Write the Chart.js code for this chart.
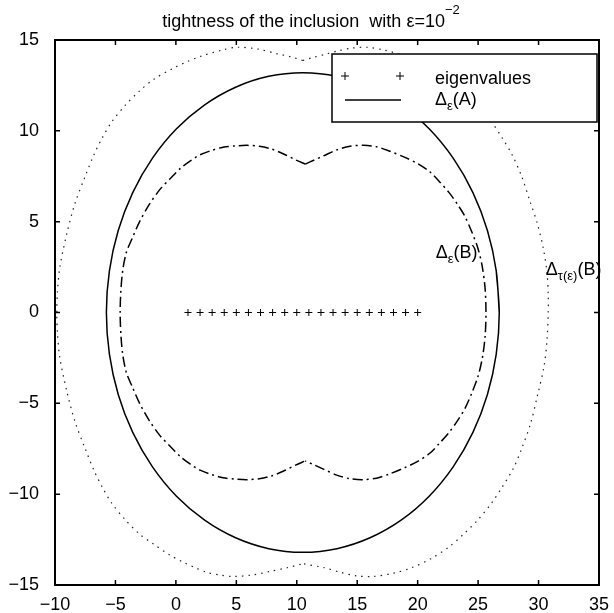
<!DOCTYPE html>
<html>
<head>
<meta charset="utf-8">
<script src="https://cdn.jsdelivr.net/npm/chart.js@4.4.1/dist/chart.umd.min.js"></script>
<style>
  html, body { margin: 0; padding: 0; background: #fff; }
  #wrap { width: 614px; height: 613px; }
</style>
</head>
<body>
<div id="wrap"><canvas id="chart" width="614" height="613"></canvas></div>
<script>
// DATA

const xTicks = [-10, -5, 0, 5, 10, 15, 20, 25, 30, 35];
const yTicks = [-15, -10, -5, 0, 5, 10, 15];

// eigenvalues on the real axis
const eigRe = [1, 2, 3, 4, 5, 6, 7, 8, 9, 10, 11, 12, 13, 14, 15, 16, 17, 18, 19, 20];
const eigIm = [0, 0, 0, 0, 0, 0, 0, 0, 0, 0, 0, 0, 0, 0, 0, 0, 0, 0, 0, 0];

// Delta_eps(A), solid curve
const deltaA = [
  [26.75, 0], [26.50, 2.29], [25.77, 4.51], [24.57, 6.60], [22.95, 8.48], [20.95, 10.11],
  [18.63, 11.43], [16.06, 12.40], [13.32, 13.00], [10.5, 13.2], [7.68, 13.00], [4.94, 12.40],
  [2.38, 11.43], [0.05, 10.11], [-1.95, 8.48], [-3.57, 6.60], [-4.77, 4.51], [-5.50, 2.29],
  [-5.75, 0], [-5.50, -2.29], [-4.77, -4.51], [-3.57, -6.60], [-1.95, -8.48], [0.05, -10.11],
  [2.38, -11.43], [4.94, -12.40], [7.68, -13.00], [10.5, -13.2], [13.32, -13.00], [16.06, -12.40],
  [18.63, -11.43], [20.95, -10.11], [22.95, -8.48], [24.57, -6.60], [25.77, -4.51], [26.50, -2.29],
  [26.75, 0], [26.50, 2.29]
];

// Delta_eps(B), dash-dot curve, right and left lobes
const deltaBRight = [
  [10.7, 8.17], [11.4, 8.38], [12.2, 8.62], [13.3, 8.95], [14.4, 9.15], [15.5, 9.2], [16.6, 9.12],
  [17.7, 8.88], [18.9, 8.55], [20.0, 8.2], [21.0, 7.75], [21.8, 7.2], [22.6, 6.6], [23.3, 5.95],
  [23.9, 5.3], [24.5, 4.4], [25.0, 3.5], [25.35, 2.5], [25.58, 1.3], [25.65, 0], [25.58, -1.3],
  [25.35, -2.5], [25.0, -3.5], [24.5, -4.4], [23.9, -5.3], [23.3, -5.95], [22.6, -6.6], [21.8, -7.2],
  [21.0, -7.75], [20.0, -8.2], [18.9, -8.55], [17.7, -8.88], [16.6, -9.12], [15.5, -9.2], [14.4, -9.15],
  [13.3, -8.95], [12.2, -8.62], [11.4, -8.38], [10.7, -8.17]
];
const deltaBLeft = [
  [10.7, 8.17], [9.9, 8.4], [9.0, 8.7], [7.9, 9.0], [6.9, 9.15], [5.9, 9.2], [4.9, 9.17], [3.9, 9.1],
  [3.0, 8.93], [2.0, 8.68], [1.2, 8.35], [0.4, 7.95], [-0.5, 7.35], [-1.3, 6.79], [-2.2, 5.95],
  [-3.0, 5.0], [-3.6, 4.1], [-4.1, 3.3], [-4.4, 2.3], [-4.55, 1.2], [-4.61, 0], [-4.55, -1.2],
  [-4.4, -2.3], [-4.1, -3.3], [-3.6, -4.1], [-3.0, -5.0], [-2.2, -5.95], [-1.3, -6.79], [-0.5, -7.35],
  [0.4, -7.95], [1.2, -8.35], [2.0, -8.68], [3.0, -8.93], [3.9, -9.1], [4.9, -9.17], [5.9, -9.2],
  [6.9, -9.15], [7.9, -9.0], [9.0, -8.7], [9.9, -8.4], [10.7, -8.17]
];

// Delta_tau(eps)(B), dotted curve, right and left lobes
const deltaTauRight = [
  [10.5, 13.87], [11.4, 14.05], [12.3, 14.2], [13.4, 14.4], [14.5, 14.55], [15.8, 14.6], [17.2, 14.45],
  [18.8, 14.15], [20.5, 13.7], [22.0, 13.1], [23.5, 12.4], [24.8, 11.55], [26.0, 10.6], [27.0, 9.6],
  [27.8, 8.7], [28.6, 7.5], [29.3, 6.1], [29.9, 4.9], [30.4, 3.5], [30.7, 2.2], [30.8, 1.0], [30.8, 0],
  [30.7, -1.5], [30.45, -2.97], [29.9, -4.6], [29.35, -6.09], [28.6, -7.5], [27.9, -8.6], [27.0, -9.6],
  [26.1, -10.5], [25.0, -11.4], [23.8, -12.2], [22.6, -12.9], [21.1, -13.55], [19.5, -14.05],
  [18.0, -14.35], [16.3, -14.53], [15.0, -14.5], [13.6, -14.3], [12.3, -14.05], [10.5, -13.83]
];
const deltaTauLeft = [
  [10.5, 13.87], [9.5, 14.08], [8.4, 14.24], [6.8, 14.5], [5.1, 14.6], [3.9, 14.46], [2.0, 14.09],
  [0.9, 13.8], [-0.2, 13.45], [-1.8, 12.85], [-3.0, 12.2], [-4.2, 11.4], [-5.3, 10.5], [-6.1, 9.6],
  [-6.75, 8.73], [-7.5, 7.5], [-8.35, 6.0], [-9.0, 4.4], [-9.6, 2.5], [-9.8, 1.1], [-9.85, 0],
  [-9.8, -1.1], [-9.6, -2.5], [-9.0, -4.4], [-8.35, -6.0], [-7.5, -7.5], [-6.75, -8.73], [-6.1, -9.6],
  [-5.3, -10.5], [-4.2, -11.4], [-3.0, -12.2], [-1.85, -12.75], [-0.5, -13.35], [0.65, -13.76],
  [1.6, -14.05], [2.6, -14.31], [3.7, -14.46], [4.8, -14.53], [6.3, -14.45], [7.8, -14.25],
  [9.2, -14.05], [10.5, -13.83]
];

// HELPERS

const FONT = '"Liberation Sans", Arial, Helvetica, sans-serif';
const toPts = arr => arr.map(([x, y]) => ({ x, y }));
const fmt = v => (v < 0 ? "\u2212" + Math.abs(v) : String(v));

// draw "main" + subscript + "rest" starting at x, baseline y
function drawSubText(ctx, x, y, main, sub, rest) {
  ctx.font = "18px " + FONT;
  ctx.fillText(main, x, y);
  x += ctx.measureText(main).width;
  ctx.font = "13px " + FONT;
  ctx.fillText(sub, x, y + 5);
  x += ctx.measureText(sub).width;
  ctx.font = "18px " + FONT;
  ctx.fillText(rest, x, y);
}

// PLUGIN: title, frame with inward ticks, legend box, curve labels

const decorations = {
  id: "decorations",
  afterDatasetsDraw(chart) {
    const { ctx, chartArea: a, scales } = chart;
    const xs = scales.x, ys = scales.y;
    ctx.save();
    ctx.fillStyle = "#000";
    ctx.textAlign = "left";
    ctx.textBaseline = "alphabetic";

    // title
    ctx.font = "18px " + FONT;
    const t1 = "tightness of the inclusion  with \u03b5=10";
    const w1 = ctx.measureText(t1).width;
    ctx.font = "13px " + FONT;
    const w2 = ctx.measureText("\u22122").width;
    const tx = 311 - (w1 + w2) / 2;
    ctx.font = "18px " + FONT;
    ctx.fillText(t1, tx, 27);
    ctx.font = "13px " + FONT;
    ctx.fillText("\u22122", tx + w1, 14);

    // curve labels
    drawSubText(ctx, xs.getPixelForValue(21.5), ys.getPixelForValue(3.0), "\u0394", "\u03b5", "(B)");
    drawSubText(ctx, xs.getPixelForValue(30.6), ys.getPixelForValue(2.07), "\u0394", "\u03c4(\u03b5)", "(B)");

    // legend box
    const lx = 332, ly = 54, lw = a.right - 2 - lx, lh = 68;
    ctx.fillStyle = "#fff";
    ctx.fillRect(lx, ly, lw, lh);
    ctx.strokeStyle = "#000";
    ctx.lineWidth = 1.5;
    ctx.strokeRect(lx, ly, lw, lh);
    ctx.lineWidth = 1;
    ctx.beginPath();
    [345, 400].forEach(px => {
      ctx.moveTo(px - 4, 76); ctx.lineTo(px + 4, 76);
      ctx.moveTo(px, 72); ctx.lineTo(px, 80);
    });
    ctx.stroke();
    ctx.lineWidth = 1.5;
    ctx.beginPath();
    ctx.moveTo(345, 100); ctx.lineTo(401, 100);
    ctx.stroke();
    ctx.fillStyle = "#000";
    ctx.font = "18px " + FONT;
    ctx.fillText("eigenvalues", 435, 84);
    drawSubText(ctx, 435, 105, "\u0394", "\u03b5", "(A)");

    // frame
    ctx.strokeStyle = "#000";
    ctx.lineWidth = 2;
    ctx.strokeRect(a.left, a.top, a.right - a.left, a.bottom - a.top);

    // inward ticks on all four sides
    const tl = 5;
    ctx.lineWidth = 1.5;
    ctx.beginPath();
    xTicks.forEach(v => {
      const px = xs.getPixelForValue(v);
      ctx.moveTo(px, a.bottom); ctx.lineTo(px, a.bottom - tl);
      ctx.moveTo(px, a.top); ctx.lineTo(px, a.top + tl);
    });
    yTicks.forEach(v => {
      const py = ys.getPixelForValue(v);
      ctx.moveTo(a.left, py); ctx.lineTo(a.left + tl, py);
      ctx.moveTo(a.right, py); ctx.lineTo(a.right - tl, py);
    });
    ctx.stroke();
    ctx.restore();
  }
};

// CHART

const lineDs = (data, dash, color) => ({
  data: toPts(data),
  showLine: true,
  pointRadius: 0,
  borderColor: color,
  borderWidth: 1.5,
  borderDash: dash,
  tension: 0.3,
  fill: false
});

new Chart(document.getElementById("chart"), {
  type: "scatter",
  data: {
    datasets: [
      {
        data: eigRe.map((x, i) => ({ x, y: eigIm[i] })),
        pointStyle: "cross",
        pointRadius: 3.5,
        borderWidth: 1,
        borderColor: "#000",
        showLine: false
      },
      lineDs(deltaA, [], "#000"),
      lineDs(deltaBRight, [10, 4, 2, 4], "#000"),
      lineDs(deltaBLeft, [10, 4, 2, 4], "#000"),
      Object.assign(lineDs(deltaTauRight, [1.5, 5], "#222"), { borderWidth: 1.2 }),
      Object.assign(lineDs(deltaTauLeft, [1.5, 5], "#222"), { borderWidth: 1.2 })
    ]
  },
  options: {
    responsive: false,
    animation: false,
    devicePixelRatio: 1,
    layout: { padding: { top: 40, right: 15, left: 0, bottom: 0 } },
    plugins: { legend: { display: false }, tooltip: { enabled: false }, title: { display: false } },
    scales: {
      x: {
        type: "linear",
        min: -10,
        max: 35,
        afterBuildTicks: s => { s.ticks = xTicks.map(v => ({ value: v })); },
        afterFit: s => { s.height = 28; },
        grid: { display: false },
        border: { display: false },
        ticks: {
          autoSkip: false,
          maxRotation: 0,
          padding: 1,
          color: "#000",
          font: { family: FONT, size: 18 },
          callback: v => fmt(v)
        }
      },
      y: {
        type: "linear",
        min: -15,
        max: 15,
        afterBuildTicks: s => { s.ticks = yTicks.map(v => ({ value: v })); },
        afterFit: s => { s.width = 55; },
        grid: { display: false },
        border: { display: false },
        ticks: {
          autoSkip: false,
          padding: 8,
          color: "#000",
          font: { family: FONT, size: 18 },
          callback: v => fmt(v)
        }
      }
    }
  },
  plugins: [decorations]
});
</script>
</body>
</html>
